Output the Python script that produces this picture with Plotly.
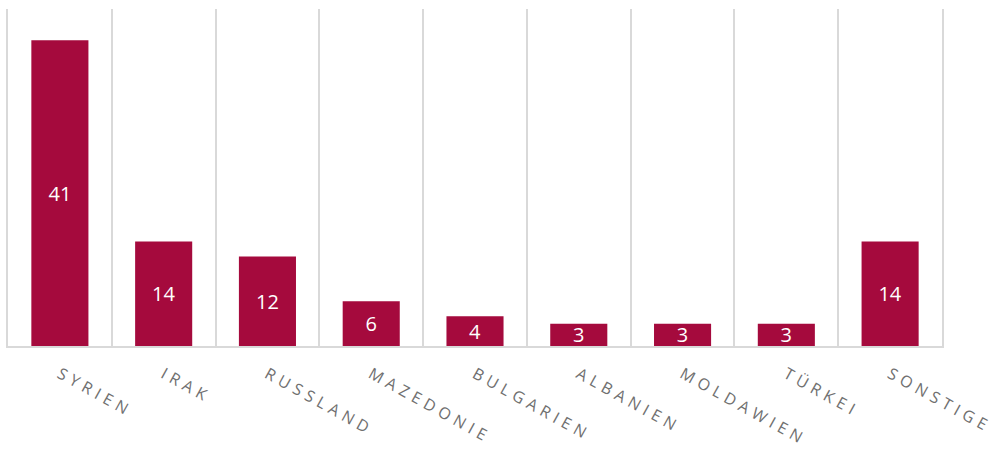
import plotly.graph_objects as go

categories = ["SYRIEN", "IRAK", "RUSSLAND", "MAZEDONIE", "BULGARIEN",
              "ALBANIEN", "MOLDAWIEN", "TÜRKEI", "SONSTIGE"]
values = [41, 14, 12, 6, 4, 3, 3, 3, 14]

BAR = "#A50A3D"
GRID = "#D9D9D9"
FONT = "Open Sans, Liberation Sans, sans-serif"

fig = go.Figure(go.Bar(
    x=categories, y=values,
    marker=dict(color=BAR, line=dict(width=0)),
    text=[str(v) for v in values],
    textposition="inside", insidetextanchor="middle",
    textangle=0, constraintext="none",
    textfont=dict(color="white", size=20, family=FONT),
    hoverinfo="skip",
))

fig.update_layout(
    width=1004, height=453,
    margin=dict(l=8, r=62, t=9, b=107, autoexpand=False),
    paper_bgcolor="white", plot_bgcolor="white",
    bargap=0.45, showlegend=False,
    xaxis=dict(
        tickson="boundaries", showgrid=True, gridcolor=GRID, gridwidth=1.5,
        showline=True, linecolor=GRID, linewidth=1.5,
        ticks="", tickangle=29, ticklabelstandoff=11,
        tickfont=dict(family=FONT, size=16, color="#707070"),
    ),
    yaxis=dict(
        range=[0, 45.2], showgrid=False, zeroline=False,
        showticklabels=False, showline=True, mirror=True,
        linecolor=GRID, linewidth=1.5, ticks="",
    ),
)

post = """
var s = document.createElement('style');
s.innerHTML = 'body { margin: 0 !important; } .xtick text { letter-spacing: 5px; }';
document.head.appendChild(s);
"""
fig.write_html("out.html", post_script=post, config={"displayModeBar": False})
